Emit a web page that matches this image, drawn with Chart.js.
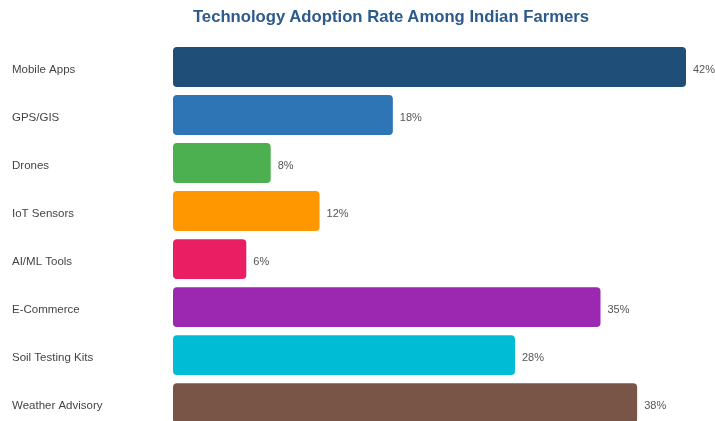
<!DOCTYPE html>
<html>
<head>
<meta charset="utf-8">
<script src="https://cdn.jsdelivr.net/npm/chart.js@4"></script>
<style>
  html, body { margin: 0; padding: 0; background: #fff; overflow: hidden; }
  .wrap { position: relative; width: 715px; height: 421px; overflow: hidden; }
  .title {
    position: absolute; left: 0; top: 7px; width: 782px;
    text-align: center; line-height: 20px;
    font: bold 16.7px 'Liberation Sans', Arial, Helvetica, sans-serif;
    color: #2c5a8c;
  }
  canvas { display: block; }
</style>
</head>
<body>
<div class="wrap">
  <canvas id="chart" width="715" height="437"></canvas>
  <div class="title">Technology Adoption Rate Among Indian Farmers</div>
</div>
<script>
const categories = ["Mobile Apps", "GPS/GIS", "Drones", "IoT Sensors", "AI/ML Tools", "E-Commerce", "Soil Testing Kits", "Weather Advisory"]
const adoption = [42, 18, 8, 12, 6, 35, 28, 38]
const barColors = ["#1f4e79", "#2e75b6", "#4caf50", "#ff9800", "#e91e63", "#9c27b0", "#00bcd4", "#795548"]

const FONT = "'Liberation Sans', Arial, Helvetica, sans-serif"

// draw "NN%" just past the end of each bar
const valueLabels = {
  id: "valueLabels",
  afterDatasetsDraw(chart) {
    const ctx = chart.ctx
    const meta = chart.getDatasetMeta(0)
    ctx.save()
    ctx.font = "11px " + FONT
    ctx.fillStyle = "#555"
    ctx.textAlign = "left"
    ctx.textBaseline = "middle"
    meta.data.forEach((bar, i) => {
      ctx.fillText(adoption[i] + "%", bar.x + 7, bar.y + 2.5)
    })
    ctx.restore()
  },
}

new Chart(document.getElementById("chart"), {
  type: "bar",
  data: {
    labels: categories,
    datasets: [
      {
        data: adoption,
        backgroundColor: barColors,
        borderRadius: 4,
        borderSkipped: false,
        barPercentage: 1,
        categoryPercentage: 0.83,
      },
    ],
  },
  options: {
    responsive: false,
    indexAxis: "y",
    animation: false,
    layout: { padding: { left: 12, right: 29, top: 43, bottom: 5 } },
    plugins: {
      legend: { display: false },
      tooltip: { enabled: false },
      title: { display: false },
    },
    scales: {
      x: {
        display: false,
        min: 0,
        max: 42,
      },
      y: {
        grid: { display: false },
        border: { display: false },
        ticks: {
          crossAlign: "far",
          labelOffset: 2.5,
          color: "#444",
          font: { size: 11.5, family: FONT },
        },
        afterFit(scale) {
          scale.width = 161
        },
      },
    },
  },
  plugins: [valueLabels],
})
</script>
</body>
</html>
